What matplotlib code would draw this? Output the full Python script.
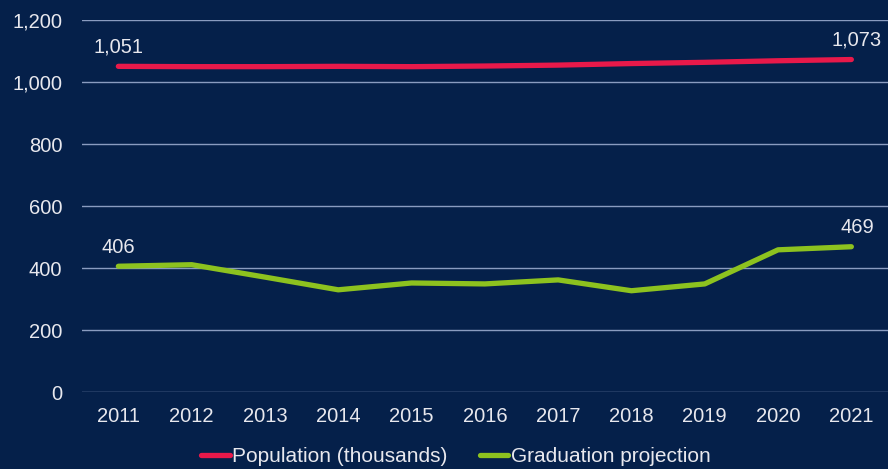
import matplotlib
matplotlib.use("Agg")
from matplotlib import pyplot as plt

years = ["2011", "2012", "2013", "2014", "2015", "2016", "2017", "2018", "2019", "2020", "2021"]
population = [1051, 1050, 1050, 1051, 1050, 1052, 1055, 1060, 1064, 1069, 1073]
graduation = [406, 411, 371, 330, 352, 349, 362, 327, 349, 459, 469]
yticks = [0, 200, 400, 600, 800, 1000, 1200]

bg = "#05204a"
txt = "#e8e8ee"
fs = 14.5
plt.rcParams["font.family"] = ["Liberation Sans", "DejaVu Sans"]

fig = plt.figure(figsize=(8.88, 4.69), dpi=100, facecolor=bg)
ax = fig.add_axes([0.092, 0.164, 0.908, 0.793], facecolor=bg)

x = list(range(len(years)))
ax.plot(x, population, color="#e8194a", linewidth=3.8, solid_capstyle="round",
        label="Population (thousands)", zorder=3)
ax.plot(x, graduation, color="#8dc21f", linewidth=3.8, solid_capstyle="round",
        label="Graduation projection", zorder=3)

ax.set_xlim(-0.5, len(years) - 0.5)
ax.set_ylim(0, 1200)
ax.set_yticks(yticks)
ax.set_yticklabels(["{:,}".format(v) for v in yticks])
ax.set_xticks(x)
ax.set_xticklabels(years)
ax.yaxis.grid(True, color="#8a9cc0", linewidth=1)
ax.set_axisbelow(True)
for s in ax.spines.values():
    s.set_visible(False)
ax.tick_params(length=0, colors=txt, labelsize=fs)
ax.tick_params(axis="x", pad=11)
ax.tick_params(axis="y", pad=14)

# end labels
for i in [0, len(years) - 1]:
    dx = 0 if i == 0 else 4
    ax.annotate("{:,}".format(population[i]), (x[i], population[i]), xytext=(dx, 7),
                textcoords="offset points", ha="center", va="bottom", color=txt, fontsize=fs)
    ax.annotate("{:,}".format(graduation[i]), (x[i], graduation[i]), xytext=(dx, 7),
                textcoords="offset points", ha="center", va="bottom", color=txt, fontsize=fs)

leg = ax.legend(loc="upper center", bbox_to_anchor=(0.464, -0.097), ncol=2, frameon=False,
                fontsize=15, handlelength=1.35, handletextpad=0.1, columnspacing=1.6)
for t in leg.get_texts():
    t.set_color(txt)

fig.savefig("out.png", dpi=100, facecolor=bg)
